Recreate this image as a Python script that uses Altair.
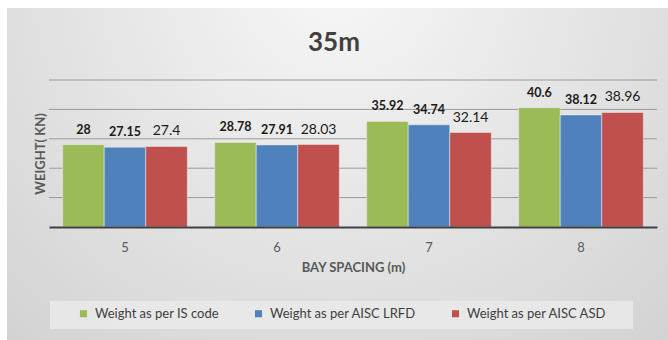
import altair as alt
import pandas as pd

bays = ["5", "6", "7", "8"]
series = ["Weight as per IS code", "Weight as per AISC LRFD", "Weight as per AISC ASD"]
is_code = [28, 28.78, 35.92, 40.6]
lrfd = [27.15, 27.91, 34.74, 38.12]
asd = [27.4, 28.03, 32.14, 38.96]
grid_vals = [10, 20, 30, 40, 50]
colors = ["#9bbb59", "#4f81bd", "#c0504d"]
chart_title = "35m"

rows = []
for name, vals in zip(series, [is_code, lrfd, asd]):
    for b, v in zip(bays, vals):
        rows.append({"bay": b, "series": name, "weight": v, "label": f"{v:g}"})
df = pd.DataFrame(rows)

FONT = "Lato"
W, H = 608, 147
PL, PT = 49, 80

x_enc = alt.X("bay:N", sort=bays,
              scale=alt.Scale(paddingInner=0.18, paddingOuter=0.09),
              axis=alt.Axis(title="BAY SPACING (m)", labelAngle=0, ticks=False,
                            labelPadding=14, labelFontSize=13, labelColor="#595959",
                            labelFont=FONT, titleFont=FONT, titleFontSize=13,
                            titleFontWeight="bold", titleColor="#595959",
                            titlePadding=7, domainColor="#404040", domainWidth=2,
                            zindex=1))
y_scale = alt.Scale(domain=[0, 50], nice=False)
xo = alt.XOffset("series:N", sort=series, scale=alt.Scale(paddingInner=0))

bg = alt.Chart(pd.DataFrame({"a": [0]})).mark_rect(
    color={"gradient": "radial", "x1": 0.5, "y1": 0.2, "r1": 0,
           "x2": 0.5, "y2": 0.2, "r2": 0.8,
           "stops": [{"offset": 0, "color": "#f7f7f7"},
                     {"offset": 1, "color": "#d0d0d0"}]}
).encode(x=alt.value(7 - PL), x2=alt.value(668 - PL),
         y=alt.value(8 - PT), y2=alt.value(340 - PT))

legbox = alt.Chart(pd.DataFrame({"a": [0]})).mark_rect(color="#e9e9e9", opacity=0.9).encode(
    x=alt.value(50 - PL), x2=alt.value(633 - PL),
    y=alt.value(301 - PT), y2=alt.value(329 - PT))

title_mark = alt.Chart(pd.DataFrame({"t": [chart_title]})).mark_text(
    font=FONT, fontSize=26, fontWeight="bold", color="#404040",
    align="center", baseline="middle").encode(
    x=alt.value(334 - PL), y=alt.value(43 - PT), text="t:N")

grid = alt.Chart(pd.DataFrame({"g": grid_vals})).mark_rule(color="#9a9a9a", strokeWidth=1).encode(
    y=alt.Y("g:Q", scale=y_scale))

bars = alt.Chart(df).mark_bar(stroke="#eeeeee", strokeWidth=0.5).encode(
    x=x_enc,
    xOffset=xo,
    y=alt.Y("weight:Q", scale=y_scale,
            axis=alt.Axis(title="WEIGHT( KN)", labels=False, ticks=False, domain=False,
                          grid=False, titleFont=FONT, titleFontSize=13,
                          titleFontWeight="bold", titleColor="#595959",
                          titlePadding=2, zindex=1)),
    color=alt.Color("series:N", sort=series,
                    scale=alt.Scale(domain=series, range=colors),
                    legend=alt.Legend(title=None, orient="none", direction="horizontal",
                                      legendX=28, legendY=227, symbolType="square",
                                      symbolSize=50, symbolStrokeWidth=0,
                                      labelFont=FONT, labelFontSize=13,
                                      labelColor="#404040", columnPadding=33,
                                      labelOffset=5, padding=0)),
)

bold_text = alt.Chart(df).transform_filter(
    alt.datum.series != series[2]
).mark_text(font=FONT, fontSize=12.5, fontWeight="bold", color="#1a1a1a",
            baseline="middle", dy=-15).encode(
    x=x_enc, xOffset=xo, y=alt.Y("weight:Q", scale=y_scale), text="label:N")

norm_text = alt.Chart(df).transform_filter(
    alt.datum.series == series[2]
).mark_text(font=FONT, fontSize=14, color="#1a1a1a",
            baseline="middle", dy=-15).encode(
    x=x_enc, xOffset=xo, y=alt.Y("weight:Q", scale=y_scale), text="label:N")

chart = alt.layer(bg, legbox, title_mark, grid, bars, bold_text, norm_text).properties(
    width=W, height=H,
    autosize=alt.AutoSizeParams(type="none"),
    padding={"left": PL, "top": PT, "right": 668 - PL - W, "bottom": 340 - PT - H},
    background="white",
).configure_view(stroke=None)

chart.save("out.html", embed_options={"renderer": "svg", "actions": False})
